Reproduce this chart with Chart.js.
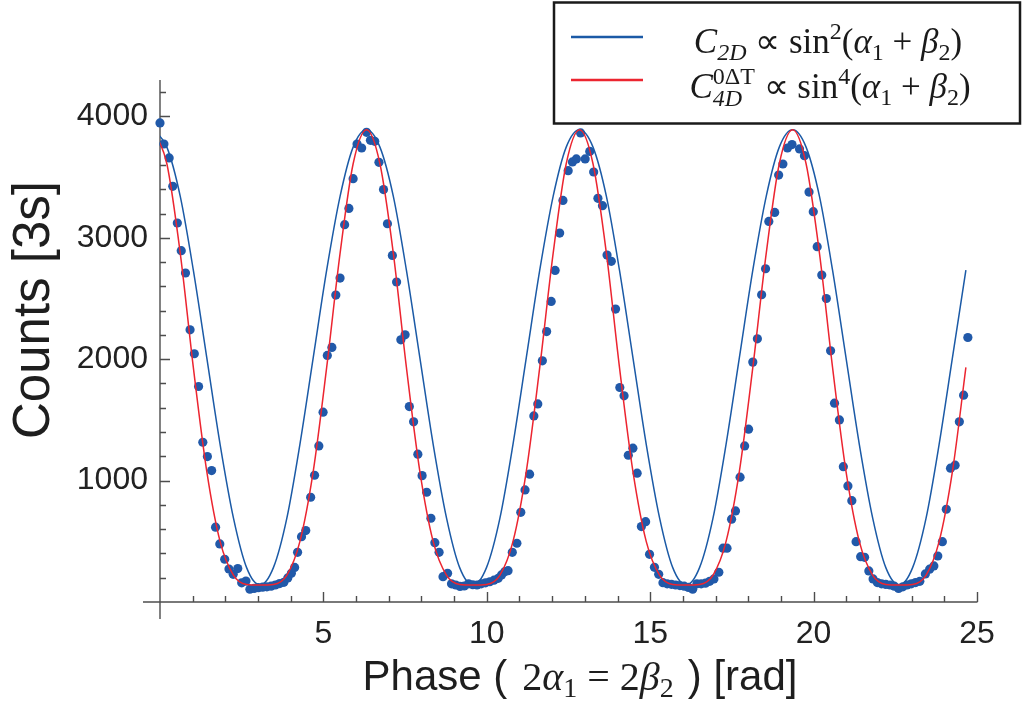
<!DOCTYPE html>
<html><head><meta charset="utf-8">
<script src="https://cdn.jsdelivr.net/npm/chart.js@4.4.1/dist/chart.umd.min.js"></script>
<style>html,body{margin:0;padding:0;background:#fff;}#wrap{width:1027px;height:702px;position:relative;}</style>
</head><body><div id="wrap"><canvas id="c" width="1027" height="702"></canvas></div>
<script>
// measured data points: phase [rad] and counts per 3 s
const phase = [
0.00,0.12,0.28,0.39,0.53,0.65,0.78,0.92,1.05,1.18,
1.31,1.45,1.58,1.70,1.83,1.98,2.11,2.24,2.38,2.50,
2.63,2.75,2.88,3.01,3.14,3.27,3.40,3.53,3.66,3.79,
3.91,4.02,4.12,4.21,4.33,4.46,4.61,4.73,4.86,4.99,
5.12,5.26,5.38,5.51,5.65,5.78,5.91,6.03,6.17,6.32,
6.44,6.57,6.70,6.84,6.96,7.11,7.24,7.37,7.50,7.63,
7.76,7.89,8.02,8.16,8.29,8.41,8.54,8.66,8.80,8.92,
9.05,9.18,9.31,9.44,9.57,9.70,9.83,9.96,10.09,10.22,
10.35,10.45,10.55,10.65,10.78,10.92,11.04,11.17,11.31,11.44,
11.56,11.70,11.83,11.97,12.09,12.23,12.33,12.49,12.62,12.74,
12.87,13.01,13.15,13.27,13.40,13.54,13.68,13.81,13.94,14.07,
14.20,14.33,14.47,14.60,14.73,14.86,14.98,15.13,15.26,15.39,
15.52,15.65,15.78,15.91,16.04,16.17,16.30,16.43,16.56,16.69,
16.82,16.95,17.10,17.23,17.35,17.49,17.61,17.75,17.89,18.01,
18.14,18.28,18.41,18.53,18.63,18.81,18.93,19.06,19.20,19.34,
19.57,19.72,19.86,19.99,20.11,20.25,20.39,20.52,20.64,20.79,
20.91,21.05,21.17,21.30,21.44,21.56,21.69,21.82,21.95,22.08,
22.21,22.34,22.47,22.60,22.73,22.86,22.99,23.12,23.25,23.42,
23.55,23.68,23.80,23.94,24.06,24.19,24.33,24.46,24.59,24.72
];
const counts = [
3946,3773,3658,3424,3122,2894,2710,2242,2045,1775,
1316,1198,1083,616,478,352,272,228,275,158,
172,105,112,118,122,125,130,140,152,162,
198,236,285,409,538,588,863,1044,1286,1564,
2031,2097,2528,2668,3108,3242,3487,3773,3740,3869,
3803,3795,3622,3397,3116,2855,2636,2160,2201,1610,
1484,1218,1041,904,690,489,409,209,236,150,
140,128,132,150,142,140,150,158,167,180,
195,223,250,258,409,484,739,923,1053,1533,
1632,1987,2228,2476,2731,3039,3308,3553,3625,3650,
3864,3650,3712,3542,3325,3265,2858,2806,2413,1767,
1698,1209,1267,1061,621,662,393,286,228,159,
150,146,140,135,130,120,105,150,150,155,
170,190,245,443,443,682,750,1028,1286,1424,
1976,2168,2531,2745,3135,3209,3517,3608,3740,3768,
3732,3677,3377,3215,2927,2693,2500,2069,1638,1500,
1115,956,835,497,373,368,256,190,160,150,
145,140,130,112,125,140,150,160,170,231,
270,297,379,497,764,1102,1127,1484,1704,2179
];
// fitted curves
const fitPhase = [
-0.20,0.21,0.62,1.02,1.43,1.84,2.25,2.65,3.06,3.47,3.88,4.28,4.69,5.10,5.51,5.91,
6.32,6.73,7.14,7.54,7.95,8.36,8.77,9.17,9.58,9.99,10.40,10.80,11.21,11.62,12.03,12.43,
12.84,13.25,13.66,14.06,14.47,14.88,15.29,15.69,16.10,16.51,16.92,17.32,17.73,18.14,18.55,18.95,
19.36,19.77,20.18,20.58,20.99,21.40,21.81,22.21,22.62,23.03,23.44,23.84,24.25,24.66
];
const fitSin2 = [
3890,3747,3341,2733,2015,1297,689,283,140,283,689,1297,2015,2733,3341,3747,
3890,3747,3341,2733,2015,1297,689,283,140,283,689,1297,2015,2733,3341,3747,
3890,3747,3341,2733,2015,1297,689,283,140,283,689,1297,2015,2733,3341,3747,
3890,3747,3341,2733,2015,1297,689,283,140,283,689,1297,2015,2733
];
const fitSin4 = [
3890,3610,2872,1932,1078,497,220,145,140,145,220,497,1078,1932,2872,3610,
3890,3610,2872,1932,1078,497,220,145,140,145,220,497,1078,1932,2872,3610,
3890,3610,2872,1932,1078,497,220,145,140,145,220,497,1078,1932,2872,3610,
3890,3610,2872,1932,1078,497,220,145,140,145,220,497,1078,1932
];
const xTickLabels = [5,10,15,20,25];
const yTickLabels = [1000,2000,3000,4000];
const xTitle = ['Phase (', '2α1 = 2β2', ') [rad]'];
const yTitle = 'Counts [3s]';

const SANS = '"Liberation Sans", Arial, Helvetica, sans-serif';
const SERIF = '"Liberation Serif", "Times New Roman", serif';
const toXY = (xs, ys) => xs.map((x, i) => ({x: x, y: ys[i]}));

function fontOf(r){ return (r.f === 'i' ? 'italic ' : '') + r.s + 'px ' + (r.f === 's' ? SANS : SERIF); }
function runW(ctx, r){
  if (r.stack) return Math.max(runW(ctx, r.stack[0]), runW(ctx, r.stack[1]));
  if (r.gap) return r.gap;
  ctx.font = fontOf(r); return ctx.measureText(r.t).width;
}
function drawRuns(ctx, runs, x, y){
  let total = 0; runs.forEach(r => total += runW(ctx, r));
  let cx = x - total / 2;
  runs.forEach(r => {
    const w = runW(ctx, r);
    if (r.stack){ r.stack.forEach(s => { ctx.font = fontOf(s); ctx.fillText(s.t, cx, y + (s.dy || 0)); }); }
    else if (!r.gap){ ctx.font = fontOf(r); ctx.fillText(r.t, cx, y + (r.dy || 0)); }
    cx += w;
  });
}

const axesPlugin = {
  id: 'axes',
  beforeDatasetsDraw(chart){
    const {ctx, scales: {x, y}} = chart;
    const x0 = x.getPixelForValue(0), y0 = y.getPixelForValue(0);
    ctx.save();
    ctx.strokeStyle = '#4d4d4d'; ctx.lineWidth = 1.4;
    ctx.beginPath();
    ctx.moveTo(x0 - 17, y0); ctx.lineTo(x.getPixelForValue(25) + 0.5, y0);
    ctx.moveTo(x0, y.getPixelForValue(4300)); ctx.lineTo(x0, y0 + 17);
    for (let v = 1; v <= 25; v++){
      const px = Math.round(x.getPixelForValue(v)) + 0.5, len = v % 5 === 0 ? 10 : 6;
      ctx.moveTo(px, y0); ctx.lineTo(px, y0 - len);
    }
    for (let v = 200; v <= 4200; v += 200){
      const py = Math.round(y.getPixelForValue(v)) + 0.5, len = v % 1000 === 0 ? 10 : 6;
      ctx.moveTo(x0, py); ctx.lineTo(x0 + len, py);
    }
    ctx.stroke();
    ctx.restore();
  }
};

const titlePlugin = {
  id: 'titles',
  afterDraw(chart){
    const ctx = chart.ctx;
    ctx.save();
    ctx.fillStyle = '#1e1e1e'; ctx.textAlign = 'left'; ctx.textBaseline = 'alphabetic';
    // x title
    drawRuns(ctx, [
      {t: xTitle[0], f: 's', s: 42}, {gap: 15},
      {t: '2', f: 'r', s: 40}, {t: 'α', f: 'i', s: 40}, {t: '1', f: 'r', s: 28, dy: 7},
      {t: ' = ', f: 'r', s: 40},
      {t: '2', f: 'r', s: 40}, {t: 'β', f: 'i', s: 40}, {t: '2', f: 'r', s: 28, dy: 7},
      {gap: 14}, {t: xTitle[2], f: 's', s: 42}
    ], 580, 690);
    // y title
    ctx.translate(49, 310); ctx.rotate(-Math.PI / 2);
    ctx.textAlign = 'center'; ctx.font = '51px ' + SANS;
    ctx.fillText(yTitle, 0, 0);
    ctx.restore();
  }
};

const legendPlugin = {
  id: 'mathLegend',
  afterDraw(chart){
    const ctx = chart.ctx;
    ctx.save();
    ctx.fillStyle = '#fff'; ctx.fillRect(554, 2, 467, 122);
    ctx.strokeStyle = '#1a1a1a'; ctx.lineWidth = 2.5;
    ctx.strokeRect(554, 2.5, 466, 121);
    ctx.lineWidth = 2.6;
    ctx.strokeStyle = chart.data.datasets[1].borderColor;
    ctx.beginPath(); ctx.moveTo(571, 37); ctx.lineTo(643, 37); ctx.stroke();
    ctx.strokeStyle = chart.data.datasets[2].borderColor;
    ctx.beginPath(); ctx.moveTo(571, 80); ctx.lineTo(643, 80); ctx.stroke();
    ctx.fillStyle = '#1a1a1a'; ctx.textAlign = 'left'; ctx.textBaseline = 'alphabetic';
    const S = 35, s = 24;
    drawRuns(ctx, [
      {t: 'C', f: 'i', s: S}, {t: '2D', f: 'i', s: s, dy: 7}, {t: ' ∝ sin', f: 'r', s: S},
      {t: '2', f: 'r', s: s, dy: -14}, {t: '(', f: 'r', s: S}, {t: 'α', f: 'i', s: S},
      {t: '1', f: 'r', s: s, dy: 7}, {t: ' + ', f: 'r', s: S}, {t: 'β', f: 'i', s: S},
      {t: '2', f: 'r', s: s, dy: 7}, {t: ')', f: 'r', s: S}
    ], 828, 53);
    drawRuns(ctx, [
      {t: 'C', f: 'i', s: S}, {stack: [{t: '0ΔT', f: 'r', s: s, dy: -14}, {t: '4D', f: 'i', s: s, dy: 8}]},
      {t: ' ∝ sin', f: 'r', s: S},
      {t: '4', f: 'r', s: s, dy: -14}, {t: '(', f: 'r', s: S}, {t: 'α', f: 'i', s: S},
      {t: '1', f: 'r', s: s, dy: 7}, {t: ' + ', f: 'r', s: S}, {t: 'β', f: 'i', s: S},
      {t: '2', f: 'r', s: s, dy: 7}, {t: ')', f: 'r', s: S}
    ], 830, 98);
    ctx.restore();
  }
};

new Chart(document.getElementById('c'), {
  type: 'scatter',
  data: {
    datasets: [
      {label: 'data', data: toXY(phase, counts), backgroundColor: '#2159a9', borderColor: '#2159a9',
       borderWidth: 0, pointRadius: 4.6, pointHoverRadius: 4.6, clip: false, order: 3},
      {label: 'C2D ∝ sin²(α1+β2)', type: 'line', data: toXY(fitPhase, fitSin2), borderColor: '#1b5aa6',
       borderWidth: 1.5, pointRadius: 0, fill: false, cubicInterpolationMode: 'monotone', order: 2},
      {label: 'C4D ∝ sin⁴(α1+β2)', type: 'line', data: toXY(fitPhase, fitSin4), borderColor: '#ec2530',
       borderWidth: 1.5, pointRadius: 0, fill: false, cubicInterpolationMode: 'monotone', order: 1}
    ]
  },
  options: {
    responsive: false, animation: false, events: [],
    layout: {padding: {left: 0, right: 50, top: 80, bottom: 0}},
    plugins: {legend: {display: false}, tooltip: {enabled: false}},
    scales: {
      x: {type: 'linear', min: 0, max: 25,
          afterFit: (sc) => { sc.height = 100; },
          grid: {display: false, drawTicks: false}, border: {display: false},
          ticks: {stepSize: 1, autoSkip: false, maxRotation: 0, padding: 13, color: '#222',
                  font: {family: SANS, size: 32},
                  callback: (v) => xTickLabels.includes(v) ? String(v) : ''}},
      y: {type: 'linear', min: 0, max: 4300,
          afterFit: (sc) => { sc.width = 160; },
          grid: {display: false, drawTicks: false}, border: {display: false},
          ticks: {stepSize: 200, autoSkip: false, padding: 12, color: '#222',
                  font: {family: SANS, size: 32},
                  callback: (v) => yTickLabels.includes(v) ? String(v) : ''}}
    }
  },
  plugins: [axesPlugin, titlePlugin, legendPlugin]
});
</script>
</body></html>
